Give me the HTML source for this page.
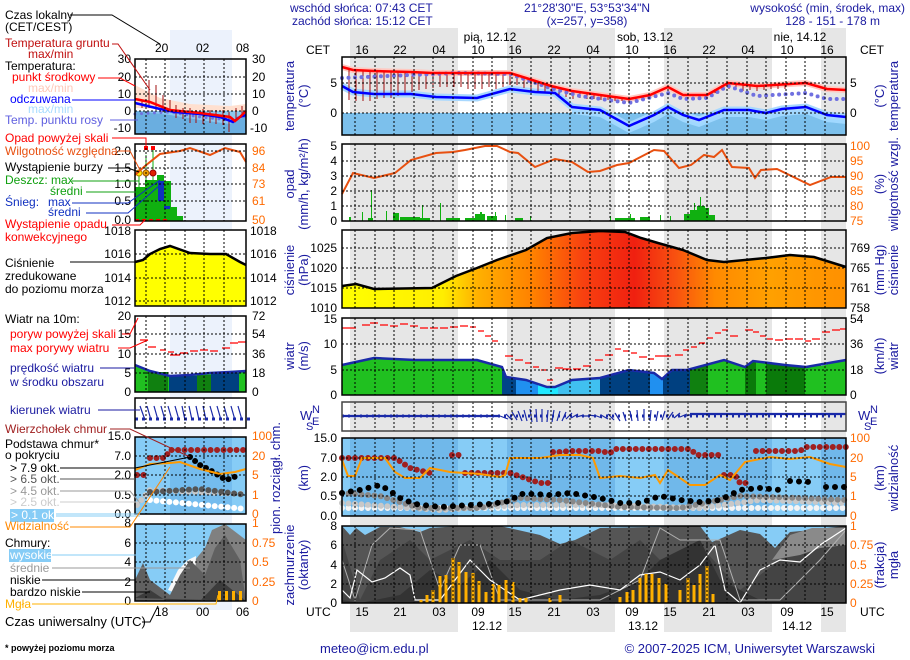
<!DOCTYPE html>
<html><head><meta charset="utf-8"><style>
html,body{margin:0;padding:0;background:#fff;}
svg{display:block;font-family:"Liberation Sans",sans-serif;}
</style></head><body>
<svg width="910" height="660" viewBox="0 0 910 660" xmlns="http://www.w3.org/2000/svg">
<defs>
<linearGradient id="pg" x1="342" x2="846" y1="0" y2="0" gradientUnits="userSpaceOnUse">
<stop offset="0" stop-color="#ffff00"/><stop offset="0.2" stop-color="#ffee00"/>
<stop offset="0.27" stop-color="#ffb000"/><stop offset="0.38" stop-color="#ff8000"/>
<stop offset="0.48" stop-color="#f84010"/><stop offset="0.58" stop-color="#f02010"/>
<stop offset="0.66" stop-color="#f85010"/><stop offset="0.74" stop-color="#ff8a00"/>
<stop offset="0.85" stop-color="#ffa000"/><stop offset="1" stop-color="#ff9000"/>
</linearGradient>
</defs>
<rect width="910" height="660" fill="#fff"/>
<rect x="170" y="30" width="62" height="580" fill="#ecf2fc"/>
<g fill="#e6e6e6">
<rect x="350" y="28" width="108" height="604"/>
<rect x="507" y="28" width="108" height="604"/>
<rect x="664" y="28" width="108" height="604"/>
<rect x="821" y="28" width="25" height="604"/>
</g>

<g font-size="12" fill="#1a1aa0">
<text x="290" y="12">wschód słońca: 07:43 CET</text>
<text x="292" y="25">zachód słońca: 15:12 CET</text>
<text x="587" y="12" text-anchor="middle">21°28'30"E, 53°53'34"N</text>
<text x="587" y="25" text-anchor="middle">(x=257,  y=358)</text>
<text x="905" y="12" text-anchor="end">wysokość (min, środek, max)</text>
<text x="880" y="25" text-anchor="end">128 - 151 - 178 m</text>
</g>
<g font-size="12" fill="#000">
<text x="490" y="41" text-anchor="middle">pią, 12.12</text>
<text x="645" y="41" text-anchor="middle">sob, 13.12</text>
<text x="800" y="41" text-anchor="middle">nie, 14.12</text>
<text x="306" y="54">CET</text><text x="860" y="54">CET</text>
<g text-anchor="middle">
<text x="362" y="54">16</text><text x="400" y="54">22</text><text x="439" y="54">04</text><text x="478" y="54">10</text>
<text x="515" y="54">16</text><text x="554" y="54">22</text><text x="593" y="54">04</text><text x="632" y="54">10</text>
<text x="670" y="54">16</text><text x="709" y="54">22</text><text x="748" y="54">04</text><text x="787" y="54">10</text><text x="827" y="54">16</text>
<text x="362" y="616">15</text><text x="400" y="616">21</text><text x="439" y="616">03</text><text x="478" y="616">09</text>
<text x="515" y="616">15</text><text x="554" y="616">21</text><text x="593" y="616">03</text><text x="632" y="616">09</text>
<text x="670" y="616">15</text><text x="709" y="616">21</text><text x="748" y="616">03</text><text x="787" y="616">09</text><text x="827" y="616">15</text>
<text x="487" y="630">12.12</text><text x="643" y="630">13.12</text><text x="797" y="630">14.12</text>
</g>
<text x="306" y="616">UTC</text><text x="860" y="616">UTC</text>
<text x="155" y="52">20</text><text x="196" y="52">02</text><text x="236" y="52">08</text>
<text x="155" y="616">18</text><text x="196" y="616">00</text><text x="236" y="616">06</text>
</g>

<!-- MAIN TEMPERATURE -->
<rect x="342" y="113" width="504" height="22" fill="#7cc0ec"/>
<polygon fill="#a0d8ff" points="572,113 572,107 600,110 629,126 654,115 668,107 683,115 699,120 724,110 749,110 766,113 782,109 806,107 827,115 846,117 846,124 827,122 806,114 782,116 766,120 749,117 724,117 699,127 683,122 668,114 654,122 629,133 600,117 572,114"/>
<polyline fill="none" stroke="#a8d8ff" stroke-width="7" points="342,86 353,92 374,94 411,94 436,97 477,98 510,89 535,92 555,93 572,107 600,110 629,126 654,115 668,107 683,115 699,120 724,110 749,110 766,113 782,109 806,107 827,115 846,117"/>
<polyline fill="none" stroke="#ffc8c0" stroke-width="6" points="342,67 353,70 374,71 411,72 432,73 456,73 510,73 526,78 551,86 572,91 600,95 629,99 650,95 668,87 683,95 707,95 728,83 757,86 806,83 827,89 846,90"/>
<path stroke="#a01010" stroke-width="1" fill="none" d="M349,70v30 M356,70v31 M363,71v30 M370,71v30 M377,71v28 M384,71v27 M391,72v26 M398,72v24 M405,72v22 M412,72v20 M419,72v18 M426,73v16 M433,73v15 M440,73v14 M447,73v14 M454,73v14 M461,73v14 M468,73v16 M475,73v16 M482,73v16 M489,73v14 M496,73v16 M503,73v14 M510,73v12 M517,75v10 M524,78v10 M531,80v10 M538,82v10 M545,84v8 M552,86v8 M559,88v8 M566,89v8 M573,91v8 M580,92v6 M587,93v6 M594,94v5 M601,95v5 M608,96v4 M615,97v4 M622,98v3 M629,99v3 M636,98v2 M643,96v2 M715,89v4 M722,85v5 M729,83v6 M736,84v5 M743,85v6 M750,85v5 M757,86v5 M764,86v4 M771,85v4 M778,85v4 M785,84v5"/>
<polyline fill="none" stroke="#7070e0" stroke-width="4" stroke-dasharray="0 6.5" stroke-linecap="round" points="342,78 411,75 456,73 510,74 550,88 580,96 629,103 668,93 683,99 707,98 728,86 757,96 806,93 827,99 846,99"/>
<polyline fill="none" stroke="#0000ff" stroke-width="2.5" points="342,86 353,92 374,94 411,94 436,97 477,98 510,89 535,92 555,93 572,107 600,110 629,126 654,115 668,107 683,115 699,120 724,110 749,110 766,113 782,109 806,107 827,115 846,117"/>
<polyline fill="none" stroke="#ff0000" stroke-width="2.5" points="342,67 353,70 374,71 411,72 432,73 456,73 510,73 526,78 551,86 572,91 600,95 629,99 650,95 668,87 683,95 707,95 728,83 757,86 806,83 827,89 846,90"/>

<!-- MAIN PRECIP -->
<g fill="#10b010">
<rect x="349" y="217" width="2" height="4"/><rect x="362" y="212" width="1" height="9"/><rect x="368" y="218" width="5" height="3"/><rect x="371" y="190" width="1" height="31"/>
<rect x="386" y="211" width="1" height="10"/><rect x="393" y="213" width="6" height="8"/><rect x="397" y="215" width="1" height="6"/>
<rect x="400" y="217" width="20" height="4"/><rect x="410" y="218" width="20" height="3"/><rect x="422" y="205" width="1" height="16"/>
<rect x="446" y="218" width="14" height="3"/><rect x="440" y="203" width="1" height="18"/><rect x="465" y="218" width="10" height="3"/>
<rect x="475" y="214" width="10" height="7"/><rect x="480" y="212" width="2" height="9"/><rect x="487" y="216" width="10" height="5"/><rect x="495" y="212" width="1" height="9"/>
<rect x="505" y="215" width="1" height="6"/><rect x="515" y="218" width="8" height="3"/><rect x="530" y="216" width="1" height="5"/>
<rect x="610" y="216" width="1" height="5"/><rect x="615" y="218" width="20" height="3"/><rect x="630" y="214" width="1" height="7"/><rect x="640" y="217" width="10" height="4"/><rect x="660" y="215" width="1" height="6"/><rect x="670" y="216" width="1" height="5"/>
<rect x="684" y="214" width="8" height="7"/><rect x="690" y="210" width="8" height="11"/><rect x="697" y="206" width="8" height="15"/><rect x="704" y="208" width="5" height="13"/><rect x="709" y="215" width="6" height="6"/><rect x="700" y="197" width="1" height="24"/><rect x="694" y="203" width="1" height="18"/>
</g>
<polyline fill="none" stroke="#e85010" stroke-width="2" points="342,194 353,173 374,178 395,173 411,160 436,153 453,152 465,150 485,146 497,146 510,152 518,153 535,167 555,159 572,162 588,172 600,171 617,165 629,163 654,150 664,151 679,168 691,165 704,155 714,157 722,150 732,167 749,168 755,178 761,170 777,169 810,185 831,177 846,177"/>

<!-- MAIN PRESSURE -->
<polygon fill="url(#pg)" points="342,286 356,284 374,289 432,288 456,276 477,268 497,260 526,250 547,238 572,233 600,231 625,232 641,238 658,243 683,250 707,260 724,262 766,258 790,255 814,257 846,267 846,308 342,308"/>
<polyline fill="none" stroke="#000" stroke-width="2.5" points="342,286 356,284 374,289 432,288 456,276 477,268 497,260 526,250 547,238 572,233 600,231 625,232 641,238 658,243 683,250 707,260 724,262 766,258 790,255 814,257 846,267"/>

<!-- MAIN WIND -->
<polygon fill="#20c020" points="342,365 374,358 415,360 477,360 502,367 506,377 526,380 547,387 555,387 572,380 600,378 629,370 654,373 662,379 672,370 687,370 724,360 745,367 753,361 785,365 806,367 846,360 846,395 342,395"/>
<g>
<rect x="502" y="360" width="14" height="35" fill="#004488"/>
<rect x="516" y="370" width="22" height="25" fill="#2090f0"/>
<rect x="538" y="380" width="20" height="15" fill="#20e8ff"/>
<rect x="558" y="378" width="42" height="17" fill="#40c0f0"/>
<rect x="600" y="368" width="90" height="27" fill="#004080"/>
<rect x="650" y="370" width="13" height="25" fill="#2090f0"/>
<rect x="690" y="362" width="18" height="33" fill="#108010"/>
<rect x="745" y="362" width="60" height="33" fill="#0a7a0a"/>
<rect x="756" y="362" width="10" height="33" fill="#20c020"/>
</g>
<polygon fill="#fff" points="342,318 846,318 846,360 806,367 785,365 753,361 745,367 724,360 687,370 672,370 662,379 654,373 629,370 600,378 572,380 555,387 547,387 526,380 506,377 502,367 477,360 415,360 374,358 342,365"/>
<g fill="#e6e6e6">
<polygon points="350,318 458,318 458,360 415,360 374,358 350,363"/>
<polygon points="507,318 615,318 615,373 600,378 572,380 555,387 547,387 526,380 507,377"/>
<polygon points="664,318 772,318 772,363 753,361 745,367 724,360 687,370 672,370 664,377"/>
<polygon points="821,318 846,318 846,360 821,366"/>
</g>
<polyline fill="none" stroke="#1a2aa8" stroke-width="2.5" points="342,365 374,358 415,360 477,360 502,367 506,377 526,380 547,387 555,387 572,380 600,378 629,370 654,373 662,379 672,370 687,370 724,360 745,367 753,361 785,365 806,367 846,360"/>
<path stroke="#ff0000" stroke-width="1.2" fill="none" d="M342,328h14 M362,325h8 M370,323h8 M380,325h8 M390,326h8 M400,324h8 M410,326h8 M420,328h8 M430,328h8 M440,328h8 M450,327h8 M460,326h8 M470,327h6 M478,331h6 M485,336h6 M492,341h6 M505,356h8 M515,360h8 M525,363h6 M533,367h6 M541,370h6 M547,380h6 M555,368h8 M563,369h8 M573,369h8 M583,366h8 M595,360h8 M605,355h8 M615,349h6 M623,351h6 M631,353h6 M639,357h8 M648,359h6 M655,356h8 M663,356h8 M675,355h8 M683,350h6 M691,347h6 M699,343h6 M707,338h6 M715,333h6 M722,330h6 M730,336h8 M745,330h8 M753,332h6 M760,336h6 M767,339h6 M775,340h8 M785,339h8 M795,339h8 M805,341h6 M812,339h8 M822,332h8 M832,330h8 M840,329h6"/>

<!-- MAIN ARROWS -->
<path stroke="#1a2aa8" stroke-width="2.2" fill="none" d="M342,416H500 M690,414H846"/>
<path stroke="#1a2aa8" stroke-width="1.2" fill="none" d="M500,416l8,3 M506,414l6,6 M512,412l5,8 M518,411l4,10 M524,410l3,11 M530,409l2,13 M536,409l1,13 M542,409v13 M548,410l-1,12 M554,410l-2,12 M560,411l-3,10 M566,412l-4,9 M572,413l-6,6 M578,414l-7,4 M584,415l-8,2 M590,416h-8 M596,416l-8,-1 M602,418l-8,-3 M608,419l-7,-4 M614,420l-6,-6 M620,421l-5,-8 M626,421l-3,-9 M632,421l-2,-10 M638,421l-1,-11 M644,421v-12 M650,421l1,-11 M656,421l2,-10 M662,420l3,-9 M668,419l5,-7 M674,418l6,-5 M680,417l7,-3 M686,416l7,-2"/>
<path stroke="#1a2aa8" stroke-width="3" fill="none" stroke-dasharray="2 4" d="M342,416H846"/>

<!-- MAIN CLOUDS -->
<rect x="342" y="438" width="504" height="78" fill="#86ccf6"/>
<g fill="#70b8ea">
<rect x="350" y="438" width="108" height="78"/><rect x="507" y="438" width="108" height="78"/><rect x="664" y="438" width="108" height="78"/><rect x="821" y="438" width="25" height="78"/>
</g>
<g fill="none" stroke-linecap="round" stroke-dasharray="0 6.5">
<polyline stroke="#f4f4f4" stroke-width="6" points="342,508 846,508"/>
<polyline stroke="#c8c8c8" stroke-width="6" points="342,503 440,510 520,505 600,505 700,508 760,500 846,503"/>
<polyline stroke="#888" stroke-width="6" points="342,493 380,496 420,508 480,508 520,498 560,500 620,507 680,508 740,496 800,498 846,500"/>
</g>
<g fill="none" stroke-linecap="round" stroke-dasharray="0 9">
<polyline stroke="#000" stroke-width="6" points="342,493 360,490 380,485 390,491 400,498 415,504 440,507 470,505 490,504 510,501 520,494 535,494 550,495 570,493 600,498 620,503 640,503 660,496 680,500 700,502 720,500 740,490 760,488 780,490"/>
<polyline stroke="#000" stroke-width="6" points="790,481 810,482"/><polyline stroke="#000" stroke-width="6" points="826,487 846,487"/>
</g>
<g fill="none" stroke-linecap="round" stroke-dasharray="0 6.5">
<polyline stroke="#a02020" stroke-width="6" points="342,458 395,458 410,468 430,473"/>
<polyline stroke="#a02020" stroke-width="6" points="452,455 460,455"/>
<polyline stroke="#a02020" stroke-width="6" points="465,473 510,473 540,483 550,483"/>
<polyline stroke="#a02020" stroke-width="6" points="553,452 560,452 570,451 600,451 610,453 615,449 690,449 697,455 720,455"/>
<polyline stroke="#a02020" stroke-width="6" points="724,475 735,475 740,483 746,483"/>
<polyline stroke="#a02020" stroke-width="6" points="756,451 800,451 806,447 846,447"/>
</g>
<polyline fill="none" stroke="#ff9a00" stroke-width="2" points="342,460 348,476 355,476 362,458 385,458 395,472 405,478 420,478 430,468 450,472 480,474 500,477 505,475 510,458 540,458 560,455 580,455 593,458 600,478 620,476 640,478 655,475 660,483 668,470 680,478 690,485 705,485 720,475 730,480 745,462 770,457 790,459 810,457 830,464 846,467"/>

<!-- MAIN BOTTOM CLOUD COVER -->
<rect x="342" y="526" width="504" height="77" fill="#86ccf6"/>
<polygon fill="#555" points="342,526 350,535 356,528 365,535 380,527 400,527 420,532 430,528 460,526 500,526 540,535 560,544 575,540 600,528 700,526 712,542 722,538 740,530 760,534 775,548 790,532 812,530 826,528 846,526 846,603 342,603"/>
<polygon fill="#444" points="342,540 360,600 380,560 410,540 430,560 470,540 500,560 540,560 570,540 610,560 640,540 660,560 700,545 740,590 780,560 800,540 820,535 846,540 846,603 342,603"/>
<polygon fill="#333" points="342,600 360,603 400,595 430,570 460,585 490,560 520,590 560,600 600,595 640,580 660,560 700,540 720,580 760,600 846,603 342,603"/>
<polygon fill="#8a8a8a" points="772,560 790,535 812,528 846,528 846,545 820,548 800,555"/>
<polyline fill="none" stroke="#b0b0b0" stroke-width="1" points="342,560 355,600 372,545 390,528 420,530 440,590 460,545 480,545 500,600 560,600 600,600 640,580 660,528 680,540 720,540 740,600 780,600 820,560 846,530"/>
<polyline fill="none" stroke="#fff" stroke-width="1.2" points="342,590 350,598 357,570 372,582 385,578 400,568 410,575 415,600 440,600 470,560 490,580 520,600 560,590 590,585 620,590 640,575 660,572 680,580 700,565 715,545 725,590 740,603 760,570 780,560 800,562 820,545 846,528"/>
<path stroke="#ffb000" stroke-width="3" fill="none" d="M421,603V600 M427,603V595 M433,603V590 M440,603V576 M446,603V575 M453,603V558 M459,603V562 M466,603V572 M473,603V573 M479,603V581 M486,603V592 M493,603V584 M499,603V585 M506,603V580 M513,603V582 M520,603V598 M526,603V598 M550,603V598 M560,603V595 M620,603V597 M627,603V592 M633,603V590 M640,603V578 M646,603V574 M652,603V574 M659,603V578 M666,603V584 M680,603V590 M688,603V578 M694,603V585 M700,603V574 M707,603V566 M713,603V594"/>

<!-- main grid -->
<g stroke="#000" stroke-width="1" stroke-dasharray="2 2" fill="none">
<path d="M355,57V135 M375,57V135 M394,57V135 M414,57V135 M433,57V135 M453,57V135 M473,57V135 M492,57V135 M512,57V135 M531,57V135 M551,57V135 M570,57V135 M590,57V135 M610,57V135 M629,57V135 M649,57V135 M668,57V135 M688,57V135 M707,57V135 M727,57V135 M747,57V135 M766,57V135 M786,57V135 M805,57V135 M825,57V135 M342,83H846 M342,113H846"/>
<path d="M355,144V221 M375,144V221 M394,144V221 M414,144V221 M433,144V221 M453,144V221 M473,144V221 M492,144V221 M512,144V221 M531,144V221 M551,144V221 M570,144V221 M590,144V221 M610,144V221 M629,144V221 M649,144V221 M668,144V221 M688,144V221 M707,144V221 M727,144V221 M747,144V221 M766,144V221 M786,144V221 M805,144V221 M825,144V221 M342,161H846 M342,176H846 M342,191H846 M342,206H846"/>
<path d="M355,230V308 M375,230V308 M394,230V308 M414,230V308 M433,230V308 M453,230V308 M473,230V308 M492,230V308 M512,230V308 M531,230V308 M551,230V308 M570,230V308 M590,230V308 M610,230V308 M629,230V308 M649,230V308 M668,230V308 M688,230V308 M707,230V308 M727,230V308 M747,230V308 M766,230V308 M786,230V308 M805,230V308 M825,230V308 M342,248H846 M342,268H846 M342,288H846"/>
<path d="M355,318V395 M375,318V395 M394,318V395 M414,318V395 M433,318V395 M453,318V395 M473,318V395 M492,318V395 M512,318V395 M531,318V395 M551,318V395 M570,318V395 M590,318V395 M610,318V395 M629,318V395 M649,318V395 M668,318V395 M688,318V395 M707,318V395 M727,318V395 M747,318V395 M766,318V395 M786,318V395 M805,318V395 M825,318V395 M342,344H846 M342,370H846"/>
<path d="M355,402V431 M375,402V431 M394,402V431 M414,402V431 M433,402V431 M453,402V431 M473,402V431 M492,402V431 M512,402V431 M531,402V431 M551,402V431 M570,402V431 M590,402V431 M610,402V431 M629,402V431 M649,402V431 M668,402V431 M688,402V431 M707,402V431 M727,402V431 M747,402V431 M766,402V431 M786,402V431 M805,402V431 M825,402V431"/>
<path d="M355,438V516 M375,438V516 M394,438V516 M414,438V516 M433,438V516 M453,438V516 M473,438V516 M492,438V516 M512,438V516 M531,438V516 M551,438V516 M570,438V516 M590,438V516 M610,438V516 M629,438V516 M649,438V516 M668,438V516 M688,438V516 M707,438V516 M727,438V516 M747,438V516 M766,438V516 M786,438V516 M805,438V516 M825,438V516 M342,458H846 M342,477H846 M342,496H846"/>
<path d="M355,526V603 M375,526V603 M394,526V603 M414,526V603 M433,526V603 M453,526V603 M473,526V603 M492,526V603 M512,526V603 M531,526V603 M551,526V603 M570,526V603 M590,526V603 M610,526V603 M629,526V603 M649,526V603 M668,526V603 M688,526V603 M707,526V603 M727,526V603 M747,526V603 M766,526V603 M786,526V603 M805,526V603 M825,526V603 M342,545H846 M342,565H846 M342,584H846"/>
</g>
<g fill="none" stroke="#000" stroke-width="1.5">
<rect x="342" y="57" width="504" height="78"/><rect x="342" y="144" width="504" height="77"/><rect x="342" y="230" width="504" height="78"/>
<rect x="342" y="318" width="504" height="77"/><rect x="342" y="402" width="504" height="29" stroke="#444"/><rect x="342" y="438" width="504" height="78"/><rect x="342" y="526" width="504" height="77"/>
</g>

<g font-size="12" fill="#000" text-anchor="end">
<text x="337" y="87">5</text><text x="337" y="117">0</text>
<text x="337" y="150">5</text><text x="337" y="165">4</text><text x="337" y="180">3</text><text x="337" y="195">2</text><text x="337" y="210">1</text><text x="337" y="225">0</text>
<text x="337" y="252">1025</text><text x="337" y="272">1020</text><text x="337" y="292">1015</text><text x="337" y="312">1010</text>
<text x="337" y="323">15</text><text x="337" y="348">10</text><text x="337" y="374">5</text><text x="337" y="399">0</text>
<text x="337" y="442">15.0</text><text x="337" y="462">7.0</text><text x="337" y="481">2.0</text><text x="337" y="500">0.5</text><text x="337" y="520">0.0</text>
<text x="337" y="530">8</text><text x="337" y="549">6</text><text x="337" y="569">4</text><text x="337" y="588">2</text><text x="337" y="607">0</text>
</g>
<g font-size="12" fill="#000">
<text x="850" y="87">5</text><text x="850" y="117">0</text>
<text x="850" y="252">769</text><text x="850" y="272">765</text><text x="850" y="292">761</text><text x="850" y="312">758</text>
<text x="850" y="323">54</text><text x="850" y="348">36</text><text x="850" y="374">18</text><text x="850" y="399">0</text>
</g>
<g font-size="12" fill="#ff6a00">
<text x="850" y="150">100</text><text x="850" y="165">95</text><text x="850" y="180">90</text><text x="850" y="195">85</text><text x="850" y="210">80</text><text x="850" y="225">75</text>
<text x="850" y="442">100</text><text x="850" y="462">20</text><text x="850" y="481">5</text><text x="850" y="500">1</text><text x="850" y="520">0</text>
<text x="850" y="530">1</text><text x="850" y="549">0.75</text><text x="850" y="569">0.5</text><text x="850" y="588">0.25</text><text x="850" y="607">0</text>
</g>
<g font-size="13" fill="#1a1aa0" text-anchor="middle">
<text transform="translate(294,96) rotate(-90)">temperatura</text><text transform="translate(308,96) rotate(-90)">(°C)</text>
<text transform="translate(294,184) rotate(-90)">opad</text><text transform="translate(308,184) rotate(-90)">(mm/h, kg/m²/h)</text>
<text transform="translate(294,270) rotate(-90)">ciśnienie</text><text transform="translate(308,270) rotate(-90)">(hPa)</text>
<text transform="translate(294,356) rotate(-90)">wiatr</text><text transform="translate(308,356) rotate(-90)">(m/s)</text>
<text transform="translate(280,478) rotate(-90)">pion. rozciągł. chm.</text><text transform="translate(308,478) rotate(-90)">(km)</text>
<text transform="translate(294,565) rotate(-90)">zachmurzenie</text><text transform="translate(308,565) rotate(-90)">(oktanty)</text>
<text transform="translate(884,96) rotate(-90)">(°C)</text><text transform="translate(898,96) rotate(-90)">temperatura</text>
<text transform="translate(884,184) rotate(-90)">(%)</text><text transform="translate(898,184) rotate(-90)">wilgotność wzgl.</text>
<text transform="translate(884,270) rotate(-90)">(mm Hg)</text><text transform="translate(898,270) rotate(-90)">ciśnienie</text>
<text transform="translate(884,356) rotate(-90)">(km/h)</text><text transform="translate(898,356) rotate(-90)">wiatr</text>
<text transform="translate(884,478) rotate(-90)">(km)</text><text transform="translate(898,478) rotate(-90)">widzialność</text>
<text transform="translate(884,565) rotate(-90)">(frakcja)</text><text transform="translate(898,565) rotate(-90)">mgła</text>
</g>
<g font-size="13" fill="#1a1aa0">
<text x="300" y="420">W</text><text x="312" y="413" font-size="11">N</text><text x="312" y="425" font-size="11">E</text><text x="306" y="430" font-size="11">S</text>
<text x="858" y="420">W</text><text x="870" y="413" font-size="11">N</text><text x="870" y="425" font-size="11">E</text><text x="864" y="430" font-size="11">S</text>
</g>

<!-- LEFT MINI PANELS -->
<g>
<rect x="135" y="59" width="111" height="75" fill="#fff"/>
<rect x="170" y="59" width="62" height="75" fill="#ecf2fc"/>
<polygon fill="#ffe0d0" points="135,85 160,98 190,104 230,106 246,104 246,112 135,108"/>
<rect x="135" y="111" width="111" height="23" fill="#8cc8f0"/>
<polygon fill="#6aaee0" points="135,111 170,115 200,120 230,124 246,116 246,134 135,134"/>
<polyline fill="none" stroke="#7070e0" stroke-width="3" stroke-dasharray="0 6.5" stroke-linecap="round" points="135,114 170,112 200,117 230,120 246,116"/>
<path stroke="#a01010" stroke-width="1" d="M142,100v8 M149,80v28 M156,85v25 M163,95v17 M170,100v12 M176,105v13 M183,108v11 M190,108v15 M196,110v13 M203,109v15 M210,110v13 M216,110v14 M223,110v15 M229,112v20 M236,108v12 M242,106v8"/>
<polyline fill="none" stroke="#0000ff" stroke-width="2.5" points="135,103 160,109 175,112 200,114 220,117 233,122 240,117 246,115"/>
<polyline fill="none" stroke="#ff0000" stroke-width="2.5" points="135,99 150,102 170,110 200,113 230,117 235,121 240,117 246,111"/>
<rect x="135" y="144" width="111" height="77" fill="#fff"/>
<rect x="170" y="144" width="62" height="77" fill="#ecf2fc"/>
<rect x="135" y="187" width="10" height="34" fill="#10b010"/><rect x="145" y="180" width="12" height="41" fill="#10b010"/>
<rect x="157" y="175" width="7" height="46" fill="#10b010"/><rect x="164" y="181" width="7" height="40" fill="#10b010"/><rect x="171" y="207" width="6" height="14" fill="#10b010"/><rect x="177" y="216" width="6" height="5" fill="#10b010"/>
<rect x="158" y="181" width="6" height="20" fill="#1030c0"/><rect x="164" y="206" width="6" height="3" fill="#1030c0"/>
<path stroke="#10b010" d="M139,172v15 M146,155v25 M153,150v30" fill="none"/>
<path stroke="#ff0000" stroke-width="2" stroke-dasharray="4 3" d="M135,220H170"/>
<rect x="144" y="146" width="4" height="4" fill="#f00"/><rect x="151" y="146" width="4" height="4" fill="#f00"/>
<circle cx="139" cy="173" r="3" fill="#ffee00" stroke="#b08000"/><circle cx="146" cy="173" r="3" fill="#f0a000" stroke="#a06000"/><circle cx="153" cy="173" r="3" fill="#e02000" stroke="#900"/>
<polyline fill="none" stroke="#e85010" stroke-width="2" points="135,175 145,166 160,154 180,151 190,148 210,155 225,148 240,152 246,162"/>
<rect x="135" y="230" width="111" height="76" fill="#fff"/>
<polygon fill="#ffff00" points="135,262 143,260 150,254 160,249 170,246 190,253 210,254 226,254 240,262 246,265 246,306 135,306"/>
<polyline fill="none" stroke="#000" stroke-width="2.5" points="135,262 143,260 150,254 160,249 170,246 190,253 210,254 226,254 240,262 246,265"/>
<rect x="135" y="316" width="111" height="76" fill="#fff"/>
<rect x="170" y="316" width="62" height="76" fill="#ecf2fc"/>
<polygon fill="#20c020" points="135,365 150,371 170,376 190,375 210,373 230,372 246,371 246,392 135,392"/>
<rect x="148" y="372" width="20" height="20" fill="#108010"/><rect x="169" y="376" width="28" height="16" fill="#004080"/><rect x="211" y="373" width="28" height="19" fill="#004080"/><rect x="197" y="375" width="14" height="17" fill="#108010"/><rect x="239" y="373" width="7" height="19" fill="#20c020"/>
<polyline fill="none" stroke="#1a2aa8" stroke-width="2.5" points="135,365 150,371 170,376 190,375 210,373 230,372 246,371"/>
<path stroke="#f00" stroke-width="1.2" d="M140,340h8 M148,347h8 M160,350h6 M168,352h6 M170,355h10 M180,353h8 M190,351h8 M200,350h8 M210,351h8 M222,348h8 M230,343h8 M238,342h8"/>
<rect x="135" y="398" width="111" height="30" fill="#fff"/>
<path stroke="#1a2aa8" stroke-width="1.2" d="M140,406l5,14 M147,406l4,14 M154,406l4,14 M161,406l4,14 M168,406l4,14 M175,406l4,14 M182,406l3,14 M189,406l3,14 M196,406l3,14 M203,406l3,14 M210,406l4,14 M217,406l4,14 M224,406l4,14 M231,406l4,14 M238,406l4,14"/>
<path stroke="#1a2aa8" stroke-width="3" stroke-dasharray="3 4" d="M135,419H250"/>
<rect x="135" y="437" width="111" height="77" fill="#86ccf6"/>
<rect x="170" y="437" width="62" height="77" fill="#74bcee"/>
<polyline fill="none" stroke="#a02020" stroke-width="6" stroke-dasharray="0 6.5" stroke-linecap="round" points="137,475 144,475"/>
<polyline fill="none" stroke="#a02020" stroke-width="6" stroke-dasharray="0 6.5" stroke-linecap="round" points="150,458 165,458 170,450 246,450"/>
<polyline fill="none" stroke="#fff" stroke-width="6" stroke-dasharray="0 6.5" stroke-linecap="round" points="150,500 246,509"/>
<polyline fill="none" stroke="#c8c8c8" stroke-width="6" stroke-dasharray="0 6.5" stroke-linecap="round" points="137,505 150,490 246,494"/>
<polyline fill="none" stroke="#555" stroke-width="6" stroke-dasharray="0 6.5" stroke-linecap="round" points="150,492 200,489 246,495"/>
<polyline fill="none" stroke="#000" stroke-width="6" stroke-dasharray="0 6.5" stroke-linecap="round" points="190,457 200,465 210,470 226,480 240,475"/>
<polyline fill="none" stroke="#ff9a00" stroke-width="2" points="135,470 150,464 170,463 180,462 200,469 220,474 235,472 246,469"/>
<rect x="135" y="524" width="111" height="77" fill="#86ccf6"/>
<polygon fill="#808080" points="190,600 195,560 205,548 212,530 225,524 246,540 246,601"/>
<polygon fill="#f8f8f8" points="168,590 178,570 188,560 196,556 194,600"/>
<polygon fill="#606060" points="135,580 143,563 150,580 170,595 180,575 190,560 205,575 215,548 225,535 240,560 246,601 135,601"/>
<polygon fill="#3c3c3c" points="135,598 150,590 165,600 200,601 220,580 246,601"/>
<rect x="218" y="591" width="3" height="10" fill="#ffb000"/><rect x="225" y="591" width="3" height="10" fill="#ffb000"/><rect x="232" y="591" width="3" height="10" fill="#ffb000"/><rect x="239" y="591" width="3" height="10" fill="#ffb000"/>
</g>
<g stroke="#000" stroke-dasharray="2 2" fill="none">
<path d="M146,59V134 M165,59V134 M185,59V134 M204,59V134 M224,59V134 M135,77H246 M135,94H246 M135,111H246"/>
<path d="M146,144V221 M165,144V221 M185,144V221 M204,144V221 M224,144V221 M135,151H246 M135,168H246 M135,184H246 M135,201H246"/>
<path d="M146,230V306 M165,230V306 M185,230V306 M204,230V306 M224,230V306 M135,254H246 M135,278H246 M135,301H246"/>
<path d="M146,316V392 M165,316V392 M185,316V392 M204,316V392 M224,316V392 M135,334H246 M135,354H246 M135,373H246"/>
<path d="M146,398V428 M165,398V428 M185,398V428 M204,398V428 M224,398V428"/>
<path d="M146,437V514 M165,437V514 M185,437V514 M204,437V514 M224,437V514 M135,456H246 M135,475H246 M135,495H246"/>
<path d="M146,524V601 M165,524V601 M185,524V601 M204,524V601 M224,524V601 M135,543H246 M135,562H246 M135,582H246"/>
</g>
<g fill="none" stroke="#000" stroke-width="1.5">
<rect x="135" y="59" width="111" height="75"/><rect x="135" y="144" width="111" height="77"/><rect x="135" y="230" width="111" height="76"/>
<rect x="135" y="316" width="111" height="76"/><rect x="135" y="398" width="111" height="30"/><rect x="135" y="437" width="111" height="77"/><rect x="135" y="524" width="111" height="77"/>
</g>
<g font-size="12" fill="#000" text-anchor="end">
<text x="131" y="63">30</text><text x="131" y="81">20</text><text x="131" y="98">10</text><text x="131" y="115">0</text><text x="131" y="132">-10</text>
<text x="131" y="155">2.0</text><text x="131" y="172">1.5</text><text x="131" y="188">1.0</text><text x="131" y="205">0.5</text><text x="131" y="224">0.0</text>
<text x="131" y="235">1018</text><text x="131" y="258">1016</text><text x="131" y="282">1014</text><text x="131" y="305">1012</text>
<text x="131" y="320">20</text><text x="131" y="338">15</text><text x="131" y="358">10</text><text x="131" y="377">5</text><text x="131" y="396">0</text>
<text x="131" y="440">15.0</text><text x="131" y="460">7.0</text><text x="131" y="479">2.0</text><text x="131" y="499">0.5</text><text x="131" y="518">0.0</text>
<text x="131" y="527">8</text><text x="131" y="547">6</text><text x="131" y="566">4</text><text x="131" y="586">2</text><text x="131" y="605">0</text>
</g>
<g font-size="12" fill="#000">
<text x="252" y="63">30</text><text x="252" y="81">20</text><text x="252" y="98">10</text><text x="252" y="115">0</text><text x="250" y="132">-10</text>
<text x="250" y="235">1018</text><text x="250" y="258">1016</text><text x="250" y="282">1014</text><text x="250" y="305">1012</text>
<text x="252" y="320">72</text><text x="252" y="338">54</text><text x="252" y="358">36</text><text x="252" y="377">18</text><text x="252" y="396">0</text>
</g>
<g font-size="12" fill="#ff6a00">
<text x="252" y="155">96</text><text x="252" y="172">84</text><text x="252" y="188">73</text><text x="252" y="205">61</text><text x="252" y="224">50</text>
<text x="252" y="440">100</text><text x="252" y="460">20</text><text x="252" y="479">5</text><text x="252" y="499">1</text><text x="252" y="518">0</text>
<text x="252" y="527">1</text><text x="252" y="547">0.75</text><text x="252" y="566">0.5</text><text x="252" y="586">0.25</text><text x="252" y="605">0</text>
</g>

<g font-size="12">
<text x="5" y="19" fill="#000">Czas lokalny</text><text x="5" y="31" fill="#000">(CET/CEST)</text>
<text x="5" y="47" fill="#c01010">Temperatura gruntu</text><text x="28" y="58" fill="#c01010">max/min</text>
<text x="5" y="70" fill="#000">Temperatura:</text>
<text x="12" y="81" fill="#f00">punkt środkowy</text>
<text x="28" y="92" fill="#ffc8b8">max/min</text>
<text x="10" y="103" fill="#0000ff">odczuwana</text>
<text x="28" y="113" fill="#a8dcff">max/min</text>
<text x="5" y="124" fill="#6060e0">Temp. punktu rosy</text>
<text x="5" y="142" fill="#f00">Opad powyżej skali</text>
<text x="5" y="155" fill="#e85010">Wilgotność względna</text>
<text x="5" y="171" fill="#000">Wystąpienie burzy</text>
<text x="5" y="184" fill="#10a010">Deszcz: max</text>
<text x="50" y="195" fill="#10a010">średni</text>
<text x="5" y="206" fill="#1030c0">Śnieg:</text><text x="48" y="206" fill="#1030c0">max</text>
<text x="48" y="216" fill="#1030c0">średni</text>
<text x="5" y="228" fill="#f00">Wystąpienie opadu</text>
<text x="5" y="241" fill="#f00">konwekcyjnego</text>
<text x="5" y="267" fill="#000">Ciśnienie</text><text x="5" y="280" fill="#000">zredukowane</text><text x="5" y="293" fill="#000">do poziomu morza</text>
<text x="5" y="323" fill="#000">Wiatr na 10m:</text>
<text x="10" y="338" fill="#f00">poryw powyżej skali</text>
<text x="10" y="352" fill="#f00">max porywy wiatru</text>
<text x="10" y="372" fill="#1a1aa0">prędkość wiatru</text>
<text x="10" y="386" fill="#1a1aa0">w środku obszaru</text>
<text x="10" y="414" fill="#1a1aa0">kierunek wiatru</text>
<text x="5" y="433" fill="#a02020">Wierzchołek chmur</text>
<text x="5" y="448" fill="#000">Podstawa chmur*</text><text x="5" y="459" fill="#000">o pokryciu</text>
<text x="10" y="472" fill="#000">&gt; 7.9 okt.</text>
<text x="10" y="483" fill="#555">&gt; 6.5 okt.</text>
<text x="10" y="495" fill="#999">&gt; 4.5 okt.</text>
<text x="10" y="506" fill="#ccc">&gt; 2.5 okt.</text>
<rect x="10" y="509" width="44" height="13" fill="#86ccf6"/>
<text x="11" y="519" fill="#fff">&gt; 0.1 okt.</text>
<text x="5" y="530" fill="#ff8800">Widzialność</text>
<text x="5" y="547" fill="#000">Chmury:</text>
<rect x="9" y="549" width="42" height="13" fill="#86ccf6"/>
<text x="10" y="559" fill="#fff">wysokie</text>
<text x="10" y="572" fill="#999">średnie</text>
<text x="10" y="584" fill="#000">niskie</text>
<text x="10" y="596" fill="#000">bardzo niskie</text>
<text x="5" y="608" fill="#ffb000">Mgła</text>
<text x="5" y="626" fill="#000" font-size="13">Czas uniwersalny (UTC)</text>
<text x="5" y="651" fill="#000" font-size="9" font-weight="bold">* powyżej poziomu morza</text>
</g>
<g fill="none" stroke-width="1">
<path stroke="#000" d="M70,15H112L160,44"/>
<path stroke="#c01010" d="M112,44H118L150,90"/>
<path stroke="#f00" d="M98,78H120L135,86"/>
<path stroke="#0000ff" d="M72,100H135"/>
<path stroke="#6060e0" d="M110,120H138"/>
<path stroke="#f00" d="M112,138H146V146"/>
<path stroke="#e85010" d="M118,151H130L140,170"/>
<path stroke="#000" d="M108,168H128L139,172"/>
<path stroke="#10a010" d="M72,181H139 M86,192H139"/>
<path stroke="#1030c0" d="M72,203H128L160,180 M86,213H128L160,185"/>
<path stroke="#f00" d="M112,225H140L145,220"/>
<path stroke="#000" d="M70,262H135"/>
<path stroke="#f00" d="M122,334H130L138,318 M118,348H130L148,340"/>
<path stroke="#1a1aa0" d="M100,368H135 M98,410H140"/>
<path stroke="#a02020" d="M110,429H130L190,457"/>
<path stroke="#000" d="M60,468H135L190,457"/>
<path stroke="#555" d="M60,479H135"/>
<path stroke="#999" d="M60,491H130L140,503"/>
<path stroke="#ccc" d="M60,502H140"/>
<path stroke="#86ccf6" d="M56,514H140 M56,516H140"/>
<path stroke="#ff8800" d="M70,527H130L170,467"/>
<path stroke="#86ccf6" d="M52,555H188"/>
<path stroke="#999" d="M52,568H190"/>
<path stroke="#000" d="M42,580H135 M82,592H150"/>
<path stroke="#ffb000" d="M32,604H216L218,595"/>
<path stroke="#000" d="M142,622H150L158,606"/>
</g>

<text x="320" y="653" font-size="13" fill="#1a1aa0">meteo@icm.edu.pl</text>
<text x="875" y="653" font-size="13" fill="#1a1aa0" text-anchor="end">© 2007-2025 ICM, Uniwersytet Warszawski</text>
</svg>
</body></html>
